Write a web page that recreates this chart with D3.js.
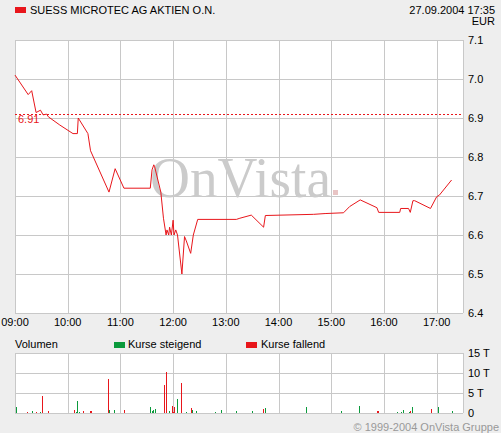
<!DOCTYPE html>
<html><head><meta charset="utf-8">
<script src="https://cdn.jsdelivr.net/npm/d3@7/dist/d3.min.js"></script>
<style>
html,body{margin:0;padding:0;background:#eeeeee;}
svg{display:block;font-family:Arial,"Liberation Sans",sans-serif;}
</style></head>
<body>
<svg id="c" width="501" height="433"></svg>
<script>
// ---- data ----
const title = "SUESS MICROTEC AG AKTIEN O.N.";
const stamp = "27.09.2004 17:35";
const currency = "EUR";
const refValue = 6.91;
const priceTicks = [6.4, 6.5, 6.6, 6.7, 6.8, 6.9, 7.0, 7.1];
const hourTicks = ["09:00","10:00","11:00","12:00","13:00","14:00","15:00","16:00","17:00"];
const volTicks = [0, 5, 10, 15];
const volTickLabels = ["0", "5 T", "10 T", "15 T"];
const priceTimes = ["09:00","09:15","09:19","09:24","09:29","09:32","09:36","09:38","09:51","10:06","10:11","10:12","10:23","10:26","10:47","10:54","11:04","11:34","11:36","11:38","11:39","11:46","11:49","11:52","11:53","11:55","11:56","11:58","12:00","12:01","12:03","12:05","12:10","12:13","12:15","12:20","12:23","12:28","13:12","13:16","13:29","13:43","13:45","14:40","14:53","15:14","15:21","15:33","15:52","15:54","16:18","16:19","16:28","16:30","16:33","16:35","16:53","17:00","17:03","17:17"];
const priceValues = [7.01,6.96,6.97,6.914,6.92,6.908,6.91,6.903,6.882,6.86,6.86,6.90,6.86,6.816,6.71,6.77,6.72,6.72,6.767,6.78,6.775,6.71,6.643,6.60,6.613,6.60,6.62,6.60,6.638,6.60,6.613,6.60,6.50,6.596,6.585,6.553,6.60,6.64,6.64,6.643,6.651,6.62,6.65,6.653,6.655,6.657,6.673,6.69,6.67,6.658,6.658,6.668,6.668,6.658,6.688,6.688,6.668,6.698,6.702,6.741];
const volTimes = ["09:01","09:14","09:19","09:24","09:29","09:31","09:37","10:07","10:10","10:11","10:13","10:17","10:25","10:26","10:46","10:47","10:53","11:04","11:34","11:36","11:37","11:39","11:50","11:52","11:55","11:59","12:00","12:01","12:04","12:09","12:15","12:20","12:21","12:26","12:48","12:55","13:12","13:30","13:42","13:45","14:31","15:11","15:32","15:52","15:53","16:15","16:19","16:22","16:28","16:30","16:32","16:54","17:01","17:02","17:17"];
const volValues = [1.5,0.25,0.5,0.25,0.25,4.25,0.5,0.75,0.25,3,0.25,0.5,0.5,0.5,8.5,0.75,0.75,0.75,1.5,0.5,0.75,1,7,10.25,0.5,1.75,0.25,1.5,3.5,7.5,0.25,1.25,0.75,0.5,0.25,0.75,0.5,0.5,1,1.25,1.5,0.5,1.75,0.5,0.5,0.25,0.25,0.75,0.25,0.5,1.5,1,1.5,0.25,0.5];
const volUp = [1,0,1,0,1,0,0,0,1,1,1,0,0,0,0,1,1,0,1,1,1,1,0,0,1,0,0,0,1,0,1,0,1,1,1,1,1,1,0,1,1,1,1,0,0,1,1,1,1,0,1,0,1,1,1];

// ---- helpers ----
const mins = s => { const [h,m] = s.split(":").map(Number); return h*60+m; };
const RED = "#e8161b", GREEN = "#0b9a3c", GRID = "#c8c8c8";
const svg = d3.select("#c");

const x = d3.scaleLinear().domain([mins("09:00"), mins("17:30")]).range([15, 463]);
const y = d3.scaleLinear().domain([6.4, 7.1]).range([313, 40]);
const yv = d3.scaleLinear().domain([0, 15]).range([413, 353]);

// header
svg.append("rect").attr("x",15).attr("y",7).attr("width",11).attr("height",6).attr("fill",RED);
svg.append("text").attr("x",30).attr("y",14).attr("font-size",11).attr("fill","#000").text(title);
svg.append("text").attr("x",495).attr("y",14).attr("text-anchor","end").attr("font-size",11).text(stamp);
svg.append("text").attr("x",495).attr("y",25).attr("text-anchor","end").attr("font-size",11).text(currency);

// main plot background
svg.append("rect").attr("x",15).attr("y",40).attr("width",448).attr("height",273).attr("fill","#fff");
const g = svg.append("g").attr("shape-rendering","crispEdges");
priceTicks.forEach(v => {
  g.append("line").attr("x1",15).attr("x2",463).attr("y1",Math.round(y(v))+0.5).attr("y2",Math.round(y(v))+0.5).attr("stroke",GRID);
});
hourTicks.forEach(h => {
  const xx = Math.round(x(mins(h)))+0.5;
  g.append("line").attr("x1",xx).attr("x2",xx).attr("y1",40).attr("y2",313).attr("stroke",GRID);
});
g.append("line").attr("x1",463.5).attr("x2",463.5).attr("y1",40).attr("y2",313).attr("stroke",GRID);

// watermark
const wm = svg.append("text").attr("x",150).attr("y",197).attr("font-family","'Liberation Serif','Times New Roman',serif")
  .attr("font-size",56).attr("fill","#cbcbcb").attr("textLength",181).attr("lengthAdjust","spacingAndGlyphs").text("OnVista");
svg.append("rect").attr("x",333).attr("y",190).attr("width",5).attr("height",5).attr("fill","#e8c4c4");

// reference line
svg.append("line").attr("x1",15).attr("x2",463).attr("y1",Math.round(y(refValue))+0.5).attr("y2",Math.round(y(refValue))+0.5)
  .attr("stroke",RED).attr("stroke-dasharray","2,2").attr("shape-rendering","crispEdges");
svg.append("text").attr("x",18).attr("y",123).attr("font-size",11).attr("fill",RED).text(refValue.toFixed(2));

// price line
const pts = priceTimes.map((t,i) => [mins(t), priceValues[i]]);
svg.append("path").datum(pts).attr("fill","none").attr("stroke",RED).attr("stroke-width",1)
  .attr("d", d3.line().x(d => x(d[0])).y(d => y(d[1])));

// right axis labels
priceTicks.forEach(v => {
  svg.append("text").attr("x",468).attr("y",y(v)+4).attr("font-size",11).text(v.toFixed(1));
});
// time labels
hourTicks.forEach(h => {
  svg.append("text").attr("x",x(mins(h))).attr("y",326).attr("text-anchor","middle").attr("font-size",11).text(h);
});

// volume legend
svg.append("text").attr("x",15).attr("y",348).attr("font-size",11).text("Volumen");
svg.append("rect").attr("x",114).attr("y",342).attr("width",11).attr("height",6).attr("fill",GREEN);
svg.append("text").attr("x",128).attr("y",348).attr("font-size",11).text("Kurse steigend");
svg.append("rect").attr("x",246).attr("y",342).attr("width",11).attr("height",6).attr("fill",RED);
svg.append("text").attr("x",261).attr("y",348).attr("font-size",11).text("Kurse fallend");

// volume panel
svg.append("rect").attr("x",15).attr("y",353).attr("width",448).attr("height",60).attr("fill","#fff");
const gv = svg.append("g").attr("shape-rendering","crispEdges");
volTicks.forEach(v => {
  gv.append("line").attr("x1",15).attr("x2",463).attr("y1",Math.round(yv(v))+0.5).attr("y2",Math.round(yv(v))+0.5).attr("stroke",GRID);
});
hourTicks.forEach(h => {
  const xx = Math.round(x(mins(h)))+0.5;
  gv.append("line").attr("x1",xx).attr("x2",xx).attr("y1",353).attr("y2",413).attr("stroke",GRID);
});
gv.append("line").attr("x1",463.5).attr("x2",463.5).attr("y1",353).attr("y2",413).attr("stroke",GRID);
volTimes.forEach((t,i) => {
  const xx = Math.round(x(mins(t)));
  const top = Math.round(yv(volValues[i]));
  gv.append("rect").attr("x",xx).attr("y",top).attr("width",1).attr("height",Math.max(1,413-top))
    .attr("fill", volUp[i] ? GREEN : RED);
});
volTicks.forEach((v,i) => {
  svg.append("text").attr("x",468).attr("y",yv(v)+4).attr("font-size",11).text(volTickLabels[i]);
});

// copyright
svg.append("text").attr("x",499).attr("y",431).attr("text-anchor","end").attr("font-size",11).attr("fill","#999").text("\u00a9 1999-2004 OnVista Gruppe");
</script>
</body></html>
